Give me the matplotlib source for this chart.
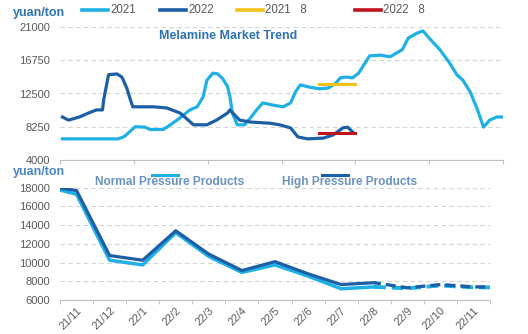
import matplotlib
matplotlib.use("Agg")
import matplotlib.pyplot as plt
from matplotlib.lines import Line2D
import numpy as np

plt.rcParams.update({
    "font.family": ["Liberation Sans", "DejaVu Sans"],
    "font.size": 8,
})

# ---- top panel: daily melamine price, day-of-year vs yuan/ton ----
days_2021 = [2, 48, 53, 62, 70, 74, 85, 91, 99, 107, 113, 118, 121, 126, 130,
             134, 138, 140, 142, 146, 152, 157, 162, 167, 176, 184, 190, 194,
             198, 206, 214, 221, 227, 231, 236, 241, 246, 253, 255, 264, 272,
             282, 287, 294, 299, 307, 313, 321, 327, 332, 338, 344, 349, 354,
             360, 365]
price_2021 = [6700, 6700, 7000, 8250, 8200, 7900, 7900, 8500, 9400, 10400,
              10800, 12100, 14200, 15100, 15000, 14400, 13400, 12100, 10000,
              8500, 8500, 9400, 10400, 11300, 11000, 10800, 11300, 12700,
              13600, 13300, 13100, 13200, 13800, 14500, 14600, 14500, 15100,
              16800, 17300, 17400, 17200, 18100, 19600, 20200, 20500, 19100,
              18100, 16400, 14900, 14200, 12700, 10400, 8200, 9100, 9500, 9500]

days_2022 = [2, 7, 16, 25, 30, 35, 36, 40, 47, 51, 55, 58, 60, 68, 77, 88, 99,
             110, 121, 129, 138, 140, 144, 148, 157, 173, 181, 190, 196, 204,
             217, 225, 233, 237, 241]
price_2022 = [9500, 9100, 9500, 10100, 10400, 10400, 11700, 14900, 15000,
              14600, 13200, 11700, 10800, 10800, 10800, 10650, 10000, 8500,
              8500, 9100, 10000, 10400, 9750, 9100, 8850, 8700, 8500, 8100,
              6950, 6700, 6800, 7200, 8100, 8200, 7600]

aug_days = [213, 243]
aug_avg_2021 = 13700
aug_avg_2022 = 7450

# ---- bottom panel: monthly price, normal vs high pressure products ----
months = ["21/10", "21/11", "21/12", "22/1", "22/2", "22/3", "22/4", "22/5",
          "22/6", "22/7", "22/8", "22/9", "22/10", "22/11", "22/12"]
high_pressure = [18200, 17700, 10750, 10250, 13400, 10900, 9150, 10100, 8800,
                 7650, 7850, 7300, 7650, 7400, 7400]
normal_pressure = [18200, 17300, 10250, 9750, 13200, 10650, 8950, 9750, 8550,
                   7200, 7400, 7250, 7550, 7350, 7350]
n_actual = 11  # through 22/8; the rest is forecast

C21 = "#1fb1e6"
C22 = "#1c5fa6"
GRID = "#d4d4d4"
TXT = "#595959"

fig = plt.figure(figsize=(5.28, 3.34), dpi=100)
W, H = 528, 334


def fx(px):
    return px / W


def fy(py):
    return 1 - py / H


def style_axis(ax):
    for s in ("left", "right", "top"):
        ax.spines[s].set_visible(False)
    ax.spines["bottom"].set_color("#bfbfbf")
    ax.spines["bottom"].set_linewidth(0.8)
    ax.yaxis.grid(True, color=GRID, linestyle=(0, (4, 3)), linewidth=0.8)
    ax.set_axisbelow(True)
    ax.tick_params(axis="y", length=0, pad=7, labelsize=8, labelcolor=TXT)


# top chart
ax1 = fig.add_axes([fx(60), fy(160), fx(443), 133 / H])
style_axis(ax1)
ax1.plot(days_2021, price_2021, color=C21, lw=2.3, solid_joinstyle="round")
ax1.plot(days_2022, price_2022, color=C22, lw=2.3, solid_joinstyle="round")
ax1.plot(aug_days, [aug_avg_2021] * 2, color="#f2c21a", lw=2.2)
ax1.plot(aug_days, [aug_avg_2022] * 2, color="#c0141d", lw=2.2)
ax1.set_xlim(0, 365)
ax1.set_ylim(4000, 21000)
ax1.set_yticks([4000, 8250, 12500, 16750, 21000])
ax1.set_xticks(np.linspace(0, 365, 7))
ax1.tick_params(axis="x", length=3, color="#bfbfbf", labelbottom=False)

fig.text(fx(13), fy(13), "yuan/ton", color="#2e74b5", fontsize=9,
         fontweight="bold", va="center")
fig.text(fx(228), fy(36), "Melamine Market Trend", color="#2e74b5",
         fontsize=9, fontweight="bold", ha="center", va="center")

legend_items = [(82, "2021", C21), (160, "2022", C22),
                (237, "2021   8", "#f2c21a"), (355, "2022   8", "#c0141d")]
for x0, label, col in legend_items:
    fig.add_artist(Line2D([fx(x0), fx(x0 + 26)], [fy(10), fy(10)],
                          color=col, lw=2.6, transform=fig.transFigure))
    fig.text(fx(x0 + 28), fy(10), label, color=TXT, fontsize=8.3,
             va="center")

# bottom chart
ax2 = fig.add_axes([fx(60), fy(300), fx(430), 112.3 / H])
style_axis(ax2)
x = np.arange(len(months)) - 1
ax2.plot(x[:n_actual], normal_pressure[:n_actual], color=C21, lw=2.5)
ax2.plot(x[:n_actual], high_pressure[:n_actual], color=C22, lw=2.3)
ax2.plot(x[n_actual - 1:], normal_pressure[n_actual - 1:], color=C21, lw=2.8,
         linestyle=(0, (3, 1.5)))
ax2.plot(x[n_actual - 1:], high_pressure[n_actual - 1:], color=C22, lw=2.4,
         linestyle=(1, (3, 1.5)))
ax2.set_xlim(-0.5, 12.5)
ax2.set_ylim(6000, 18000)
ax2.set_yticks(range(6000, 18001, 2000))
ax2.set_xticks(x[1:14])
ax2.set_xticklabels(months[1:14], rotation=45, ha="right", va="top",
                    rotation_mode="anchor", fontsize=7.8, color=TXT)
ax2.set_xticks(np.arange(-0.5, 12.6, 1), minor=True)
ax2.tick_params(axis="x", which="major", length=0, pad=4)
ax2.tick_params(axis="x", which="minor", length=3, color="#bfbfbf")

fig.text(fx(13), fy(172), "yuan/ton", color="#4a86c5", fontsize=9,
         fontweight="bold", va="center")
fig.text(fx(95), fy(182), "Normal Pressure Products", color="#6b93c0",
         fontsize=8.6, fontweight="bold", va="center")
fig.text(fx(282), fy(182), "High Pressure Products", color="#6b93c0",
         fontsize=8.6, fontweight="bold", va="center")
fig.add_artist(Line2D([fx(152), fx(178)], [fy(175), fy(175)], color=C21,
                      lw=2.2, transform=fig.transFigure))
fig.add_artist(Line2D([fx(322), fx(348)], [fy(175), fy(175)], color=C22,
                      lw=2.2, transform=fig.transFigure))

fig.savefig("out.png", dpi=100)
